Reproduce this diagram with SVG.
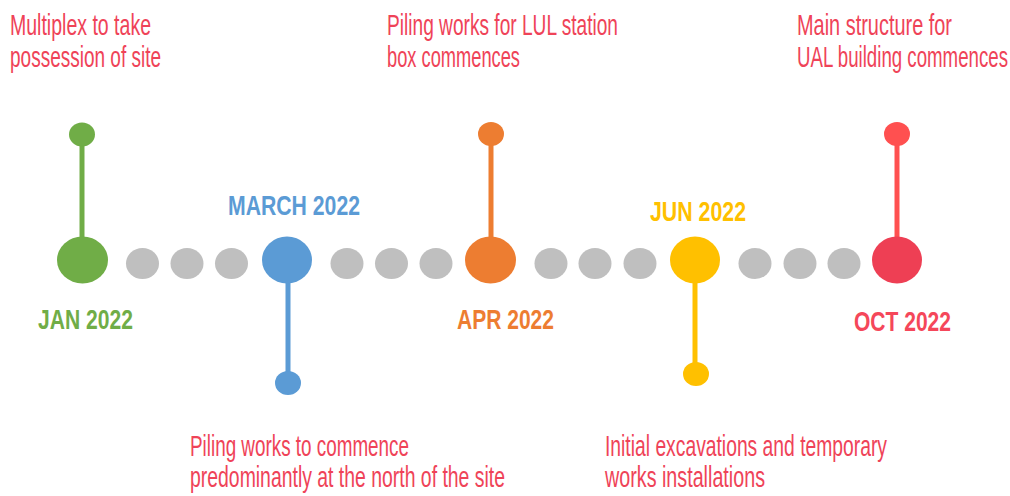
<svg xmlns="http://www.w3.org/2000/svg" width="1010" height="496" viewBox="0 0 1010 496">
<style>
.desc{font-family:"Liberation Sans Narrow","Liberation Sans",Arial,sans-serif;font-size:29px;fill:#EF4358}
.date{font-family:"Liberation Sans Narrow","Liberation Sans",Arial,sans-serif;font-size:28px;font-weight:bold}
.dot{fill:#BFBFBF}
.green{fill:#70AD47}.blue{fill:#5B9BD5}.orange{fill:#ED7D31}.yellow{fill:#FFC000}.red{fill:#EE3F54}.red2{fill:#FF5050}
.sg{stroke:#70AD47}.sb{stroke:#5B9BD5}.so{stroke:#ED7D31}.sy{stroke:#FFC000}.sr{stroke:#FF5050}
line{stroke-width:5}
</style>
<rect width="1010" height="496" fill="#fff"/>
<g id="connectors">
<ellipse class="dot" cx="142.5" cy="263.5" rx="16.5" ry="15.5"/>
<ellipse class="dot" cx="187" cy="263.5" rx="16.5" ry="15.5"/>
<ellipse class="dot" cx="231.5" cy="263.5" rx="16.5" ry="15.5"/>
<ellipse class="dot" cx="347" cy="263.5" rx="16.5" ry="15.5"/>
<ellipse class="dot" cx="391.5" cy="263.5" rx="16.5" ry="15.5"/>
<ellipse class="dot" cx="436" cy="263.5" rx="16.5" ry="15.5"/>
<ellipse class="dot" cx="551" cy="263.5" rx="16.5" ry="15.5"/>
<ellipse class="dot" cx="595" cy="263.5" rx="16.5" ry="15.5"/>
<ellipse class="dot" cx="640" cy="263.5" rx="16.5" ry="15.5"/>
<ellipse class="dot" cx="755" cy="263.5" rx="16.5" ry="15.5"/>
<ellipse class="dot" cx="800" cy="263.5" rx="16.5" ry="15.5"/>
<ellipse class="dot" cx="844" cy="263.5" rx="16.5" ry="15.5"/>
</g>
<g id="jan">
<line class="sg" x1="82" y1="134" x2="82" y2="245"/>
<ellipse class="green" cx="82" cy="134.5" rx="13" ry="12"/>
<ellipse class="green" cx="82.5" cy="260" rx="25.5" ry="23.5"/>
<text class="date" x="38" y="329" fill="#70AD47" textLength="95" lengthAdjust="spacingAndGlyphs">JAN 2022</text>
<text class="desc" x="10" y="35" textLength="141" lengthAdjust="spacingAndGlyphs">Multiplex to take</text>
<text class="desc" x="10" y="67" textLength="151" lengthAdjust="spacingAndGlyphs">possession of site</text>
</g>
<g id="march">
<line class="sb" x1="288" y1="270" x2="288" y2="383"/>
<ellipse class="blue" cx="287" cy="260" rx="25" ry="23.5"/>
<ellipse class="blue" cx="288" cy="383" rx="13" ry="12"/>
<text class="date" x="228" y="215" fill="#5B9BD5" textLength="132" lengthAdjust="spacingAndGlyphs">MARCH 2022</text>
<text class="desc" x="190" y="456" textLength="219" lengthAdjust="spacingAndGlyphs">Piling works to commence</text>
<text class="desc" x="190" y="487" textLength="315" lengthAdjust="spacingAndGlyphs">predominantly at the north of the site</text>
</g>
<g id="apr">
<line class="so" x1="491" y1="134" x2="491" y2="245"/>
<ellipse class="orange" cx="491" cy="134" rx="13" ry="12"/>
<ellipse class="orange" cx="490.5" cy="260" rx="25.5" ry="23.5"/>
<text class="date" x="457" y="329" fill="#ED7D31" textLength="97" lengthAdjust="spacingAndGlyphs">APR 2022</text>
<text class="desc" x="387" y="35" textLength="231" lengthAdjust="spacingAndGlyphs">Piling works for LUL station</text>
<text class="desc" x="387" y="67" textLength="133" lengthAdjust="spacingAndGlyphs">box commences</text>
</g>
<g id="jun">
<line class="sy" x1="695" y1="270" x2="695" y2="374"/>
<ellipse class="yellow" cx="695" cy="260" rx="25" ry="23.5"/>
<ellipse class="yellow" cx="696" cy="374" rx="13" ry="12"/>
<text class="date" x="650" y="221" fill="#FFC000" textLength="96" lengthAdjust="spacingAndGlyphs">JUN 2022</text>
<text class="desc" x="605" y="456" textLength="282" lengthAdjust="spacingAndGlyphs">Initial excavations and temporary</text>
<text class="desc" x="605" y="487" textLength="160" lengthAdjust="spacingAndGlyphs">works installations</text>
</g>
<g id="oct">
<line class="sr" x1="897" y1="134" x2="897" y2="245"/>
<ellipse class="red2" cx="897" cy="134" rx="13" ry="12"/>
<ellipse class="red" cx="897" cy="260" rx="25" ry="23.5"/>
<text class="date" x="854" y="331" fill="#F5475A" textLength="97" lengthAdjust="spacingAndGlyphs">OCT 2022</text>
<text class="desc" x="797" y="35" textLength="155" lengthAdjust="spacingAndGlyphs">Main structure for</text>
<text class="desc" x="797" y="67" textLength="211" lengthAdjust="spacingAndGlyphs">UAL building commences</text>
</g>
</svg>
